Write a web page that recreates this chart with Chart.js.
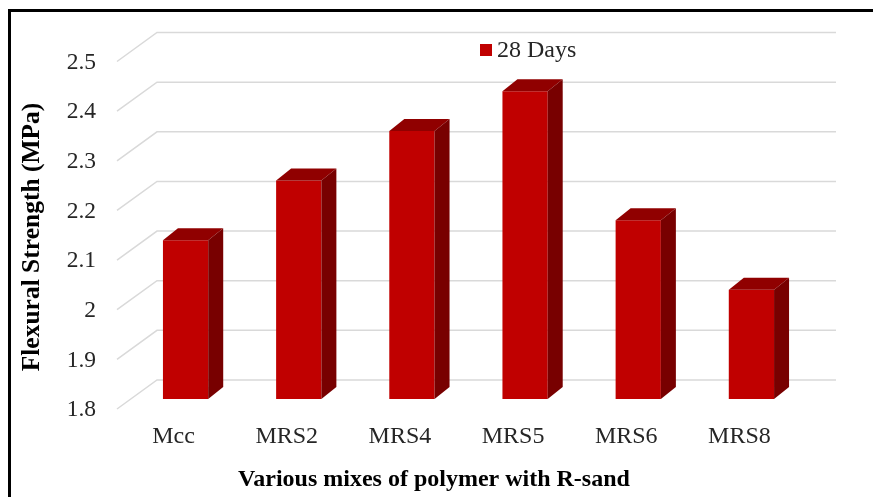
<!DOCTYPE html>
<html>
<head>
<meta charset="utf-8">
<script src="https://cdn.jsdelivr.net/npm/chart.js@4/dist/chart.umd.min.js"></script>
<style>
  html, body { margin: 0; padding: 0; background: #fff; }
  #wrap { width: 873px; height: 497px; }
</style>
</head>
<body>
<div id="wrap"><canvas id="flex-chart" width="873" height="497"></canvas></div>
<script>
const mixes = ['Mcc', 'MRS2', 'MRS4', 'MRS5', 'MRS6', 'MRS8'];
const strength28 = [2.12, 2.24, 2.34, 2.42, 2.16, 2.02];
const yTicks = [1.8, 1.9, 2, 2.1, 2.2, 2.3, 2.4, 2.5];

const FONT = '"Liberation Serif", "Times New Roman", serif';
const FRONT = '#c00000', TOP = '#900000', SIDE = '#780000';

// oblique "3D" offsets
const floorFront = { dx: -12, dy: 10 };
const backWall = { dx: 28, dy: -19 };
const barDepth = { dx: 15, dy: -12 };

const fake3d = {
    id: 'fake3d',
    beforeDatasetsDraw(chart) {
        const ctx = chart.ctx, y = chart.scales.y, a = chart.chartArea;
        ctx.save();
        ctx.strokeStyle = '#d9d9d9';
        ctx.lineWidth = 1.5;
        yTicks.forEach(v => {
            const py = y.getPixelForValue(v);
            ctx.beginPath();
            ctx.moveTo(a.left + floorFront.dx, py + floorFront.dy);
            ctx.lineTo(a.left + backWall.dx, py + backWall.dy);
            ctx.lineTo(a.right + backWall.dx, py + backWall.dy);
            ctx.stroke();
        });
        ctx.restore();
    },
    afterDatasetsDraw(chart) {
        const ctx = chart.ctx, a = chart.chartArea;
        const meta = chart.getDatasetMeta(0);
        ctx.save();
        meta.data.forEach(bar => {
            const p = bar.getProps(['x', 'y', 'width'], true);
            const l = p.x - p.width / 2, r = p.x + p.width / 2;
            const base = a.bottom;
            // top face
            ctx.fillStyle = TOP;
            ctx.beginPath();
            ctx.moveTo(l, p.y);
            ctx.lineTo(r, p.y);
            ctx.lineTo(r + barDepth.dx, p.y + barDepth.dy);
            ctx.lineTo(l + barDepth.dx, p.y + barDepth.dy);
            ctx.closePath();
            ctx.fill();
            // side face
            ctx.fillStyle = SIDE;
            ctx.beginPath();
            ctx.moveTo(r, p.y);
            ctx.lineTo(r + barDepth.dx, p.y + barDepth.dy);
            ctx.lineTo(r + barDepth.dx, base + barDepth.dy);
            ctx.lineTo(r, base);
            ctx.closePath();
            ctx.fill();
        });
        ctx.restore();
    },
    afterDraw(chart) {
        const ctx = chart.ctx, x = chart.scales.x, y = chart.scales.y;
        ctx.save();
        ctx.fillStyle = '#262626';
        ctx.font = '23.5px ' + FONT;
        // y tick labels
        ctx.textAlign = 'right';
        ctx.textBaseline = 'middle';
        yTicks.forEach(v => {
            ctx.fillText(String(v), 96, y.getPixelForValue(v) + floorFront.dy + 1);
        });
        // category labels
        ctx.font = '24px ' + FONT;
        ctx.textAlign = 'center';
        mixes.forEach((m, i) => {
            ctx.fillText(m, x.getPixelForValue(i) + floorFront.dx, 437);
        });
        // legend
        ctx.fillStyle = FRONT;
        ctx.fillRect(480, 44, 12, 12);
        ctx.fillStyle = '#262626';
        ctx.textAlign = 'left';
        ctx.fillText('28 Days', 497, 51);
        // axis titles
        ctx.fillStyle = '#000';
        ctx.font = 'bold 24px ' + FONT;
        ctx.textAlign = 'center';
        ctx.fillText('Various mixes of polymer with R-sand', 434, 480);
        ctx.font = 'bold 25.5px ' + FONT;
        ctx.translate(32, 237);
        ctx.rotate(-Math.PI / 2);
        ctx.fillText('Flexural Strength (MPa)', 0, 0);
        ctx.setTransform(1, 0, 0, 1, 0, 0);
        // frame (top + left)
        ctx.fillRect(8, 9, 873, 3);
        ctx.fillRect(8, 9, 3, 497);
        ctx.restore();
    }
};

const ctx = document.getElementById('flex-chart').getContext('2d');
new Chart(ctx, {
    type: 'bar',
    data: {
        labels: mixes,
        datasets: [{
            label: '28 Days',
            data: strength28,
            backgroundColor: FRONT,
            borderWidth: 0,
            categoryPercentage: 1,
            barPercentage: 0.4
        }]
    },
    options: {
        responsive: false,
        animation: false,
        layout: { padding: { left: 129, right: 65, top: 51.5, bottom: 98 } },
        plugins: { legend: { display: false }, tooltip: { enabled: false } },
        scales: {
            x: { display: false },
            y: { display: false, min: 1.8, max: 2.5 }
        }
    },
    plugins: [fake3d]
});
</script>
</body>
</html>
